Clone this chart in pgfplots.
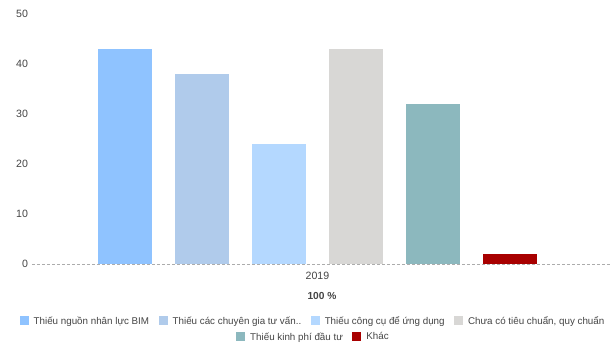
\documentclass[border=0pt]{standalone}
\usepackage{pgfplots}
\pgfplotsset{compat=1.18}
\usepackage{fontspec}
\setmainfont{Liberation Sans}
\definecolor{c1}{HTML}{8FC3FF}
\definecolor{c2}{HTML}{B0CBEB}
\definecolor{c3}{HTML}{B4D8FF}
\definecolor{c4}{HTML}{D8D7D5}
\definecolor{c5}{HTML}{8CB8BE}
\definecolor{c6}{HTML}{A80000}
\definecolor{txt}{HTML}{444444}
\pgfplotsset{
  mylegend/.style={
    legend style={draw=none, fill=none, font=\fontsize{9.8}{11}\selectfont\color{txt},
      legend columns=-1, inner sep=0pt,
      /tikz/every odd column/.append style={column sep=3pt},
      /tikz/every even column/.append style={column sep=7.5pt}},
    legend image code/.code={\path[##1] (0pt,-4.5pt) rectangle (9pt,4.5pt);},
  }
}
\begin{document}
\begin{tikzpicture}
\useasboundingbox (-32pt,-80pt) rectangle (580pt,264pt);
\begin{axis}[
  at={(0pt,0pt)}, anchor=south west,
  scale only axis, width=580pt, height=250pt,
  xmin=-1.208, xmax=6.325, ymin=0, ymax=50,
  clip=false,
  ytick={0,10,20,30,40,50},
  xtick={2.5}, xticklabels={2019},
  axis line style={draw=none}, major tick length=0pt,
  ybar, bar width=0.7, bar shift=0pt,
  tick label style={font=\fontsize{10.6}{12}\selectfont, text=txt},
  /pgf/number format/assume math mode=true,
  yticklabel style={xshift=-0.5pt},
  xticklabel style={yshift=-4.5pt},
  xlabel={\textbf{100 \%}},
  xlabel style={at={(axis description cs:0.5,0)}, anchor=center, yshift=-32pt, font=\fontsize{10.2}{12}\selectfont, text=txt},
  mylegend,
  legend style={at={(axis description cs:0.4845,0)}, anchor=center, yshift=-57pt},
]
\addplot[fill=c1, draw=none] coordinates {(0,43)};
\addplot[fill=c2, draw=none] coordinates {(1,38)};
\addplot[fill=c3, draw=none] coordinates {(2,24)};
\addplot[fill=c4, draw=none] coordinates {(3,43)};
\addplot[fill=c5, draw=none] coordinates {(4,32)};
\addplot[fill=c6, draw=none] coordinates {(5,2)};
\draw[gray!65, dash pattern=on 3pt off 2pt, line width=0.6pt] (rel axis cs:0,0) -- (rel axis cs:1,0);
\legend{Thiếu nguồn nhân lực BIM, Thiếu các chuyên gia tư vấn.., Thiếu công cụ để ứng dụng, {Chưa có tiêu chuẩn, quy chuẩn}}
\end{axis}
\begin{axis}[
  at={(0pt,0pt)}, anchor=south west,
  scale only axis, width=580pt, height=250pt,
  xmin=0, xmax=1, ymin=0, ymax=1, hide axis,
  mylegend,
  legend style={at={(axis description cs:0.4853,0)}, anchor=center, yshift=-73pt},
]
\addlegendimage{fill=c5, draw=none}
\addlegendentry{Thiếu kinh phí đầu tư}
\addlegendimage{fill=c6, draw=none}
\addlegendentry{Khác}
\end{axis}
\end{tikzpicture}
\end{document}
